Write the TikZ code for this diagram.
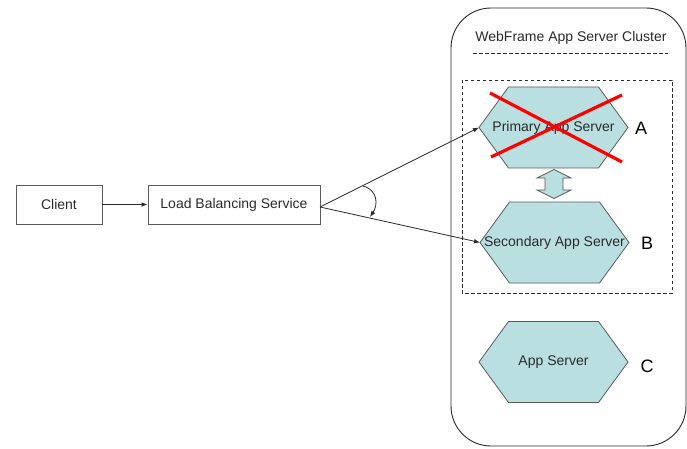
\documentclass[tikz,border=0pt]{standalone}
\usepackage{fontspec}
\setmainfont{Liberation Sans}
\usetikzlibrary{arrows.meta}
\definecolor{srvfill}{HTML}{B9DFE1}
\definecolor{edge}{HTML}{5A5A5A}
\definecolor{ink}{HTML}{2A2A2A}
\tikzset{
  box/.style={draw=edge, line width=0.9pt, fill=white, minimum width=86pt, minimum height=39pt,
    inner sep=0pt, font=\fontsize{14}{16}\selectfont, text=ink},
  hexbox/.style={draw=edge, line width=0.8pt, fill=srvfill},
  hexlabel/.style={font=\fontsize{14}{16}\selectfont, text=ink, inner sep=0pt},
  letter/.style={font=\fontsize{18}{20}\selectfont, text=black, inner sep=0pt},
  link/.style={draw=ink, line width=0.8pt, -{Latex[length=6pt,width=4.5pt]}},
  fence/.style={draw=ink, line width=0.8pt, dash pattern=on 3.5pt off 2.5pt},
  cross/.style={draw=red, line width=3.2pt}
}
% hexagon centred at (#1,#2)
\newcommand{\serverhex}[2]{%
  \draw[hexbox] (#1-74.5,#2) -- (#1-45,#2-40.5) -- (#1+45,#2-40.5) -- (#1+74.5,#2)
    -- (#1+45,#2+40.5) -- (#1-45,#2+40.5) -- cycle;}
\begin{document}
\begin{tikzpicture}[x=1pt, y=-1pt]
  \path[use as bounding box, fill=white] (0,0) rectangle (687,449);

  % cluster frame
  \draw[draw=ink, line width=0.9pt, rounded corners=40pt] (451,8) rectangle (686,446);
  \node[hexlabel] (title) at (571,38) {WebFrame App Server Cluster};
  \coordinate (ruleL) at (473,53);
  \coordinate (ruleR) at (668,53);
  \draw[fence] (ruleL) -- (ruleR);
  \draw[fence] (462,80) rectangle (672,293);

  % client and load balancer
  \node[box] (client) at (59,204.5) {Client};
  \node[box, minimum width=172pt] (lbs) at (234,204.5) {Load Balancing Service};
  \draw[link] (client.east) -- (lbs.west);

  % servers
  \serverhex{553.5}{127.5}
  \node[hexlabel] (pri) at (553.5,128) {Primary App Server};
  \coordinate (priW) at (479,127.5);
  \node[letter] (la) at (641,128) {A};

  \serverhex{554.5}{242.5}
  \node[hexlabel] (sec) at (554.5,243) {Secondary App Server};
  \coordinate (secW) at (480,242.5);
  \node[letter] (lb) at (647,243) {B};

  \serverhex{553.5}{362}
  \node[hexlabel] (app) at (553.5,362) {App Server};
  \node[letter] (lc) at (647,366) {C};

  % failover double arrow
  \draw[draw=edge, line width=0.8pt, fill=srvfill]
    (554,169.5) -- (571,178) -- (563,178) -- (563,190) -- (571,190) -- (554,198.5)
    -- (537,190) -- (545,190) -- (545,178) -- (537,178) -- cycle;

  % failed primary
  \draw[cross] (490,93) -- (622,162);
  \draw[cross] (622,95) -- (491,157);

  % dispatch links
  \coordinate (fork) at (320,207);
  \coordinate (sweepA) at (363,186);
  \coordinate (sweepB) at (370,217);
  \draw[link] (fork) -- (priW);
  \draw[link] (fork) -- (secW);
  \draw[draw=ink, line width=0.8pt, -{Latex[length=6pt,width=4.5pt]}]
    (sweepA) .. controls (378,190) and (378,205) .. (sweepB);
\end{tikzpicture}
\end{document}
